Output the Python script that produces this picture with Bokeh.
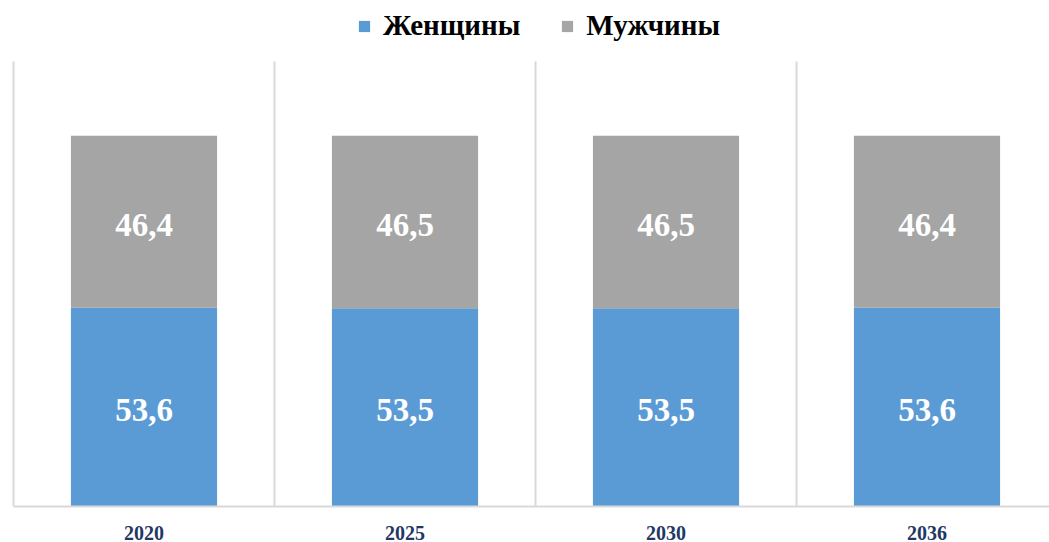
from bokeh.plotting import figure
from bokeh.models import (ColumnDataSource, Range1d, FixedTicker, Legend, LegendItem, LabelSet)
from bokeh.embed import file_html
from bokeh.resources import INLINE

years = ["2020", "2025", "2030", "2036"]
women = [53.6, 53.5, 53.5, 53.6]
men = [46.4, 46.5, 46.5, 46.4]

BLUE = "#5B9BD5"
GREY = "#A5A5A5"
GRID = "#D9D9D9"
FONT = "Liberation Serif"
YMAX = 120

xs = [i + 0.5 for i in range(len(years))]
bounds = [i + 1 for i in range(len(years) - 1)]
src = ColumnDataSource(dict(
    x=xs, women=women, men=men,
    w_mid=[w / 2 for w in women],
    m_mid=[w + m / 2 for w, m in zip(women, men)],
    w_txt=[f"{v:.1f}".replace(".", ",") for v in women],
    m_txt=[f"{v:.1f}".replace(".", ",") for v in men],
))

# frame: x 13..1049, y 0..505 ; 3.7 px per unit
p = figure(width=1049, height=542, output_backend="svg", toolbar_location=None,
           x_range=Range1d(0, 1036 / 261), y_range=Range1d(0, 505 / 3.7),
           min_border_left=13, min_border_right=0, min_border_top=0, min_border_bottom=0)
p.outline_line_color = None
p.background_fill_color = "white"

p.ygrid.grid_line_color = None
p.xgrid.grid_line_color = None
# category separators limited to the 0..YMAX value range
p.segment(x0=bounds, y0=[0] * len(bounds), x1=bounds, y1=[YMAX] * len(bounds),
          line_color=GRID, line_width=2)

rs = p.vbar_stack(["women", "men"], x="x", width=0.56, color=[BLUE, GREY],
                  line_color=None, source=src)

for ycol, tcol in (("w_mid", "w_txt"), ("m_mid", "m_txt")):
    p.add_layout(LabelSet(x="x", y=ycol, text=tcol, source=src, y_offset=-3,
                          text_align="center", text_baseline="middle",
                          text_color="white", text_font=FONT,
                          text_font_style="bold", text_font_size="33px"))

p.xaxis.ticker = FixedTicker(ticks=xs)
p.xaxis.major_label_overrides = {x: y for x, y in zip(xs, years)}
p.xaxis.major_label_text_font = FONT
p.xaxis.major_label_text_font_style = "bold"
p.xaxis.major_label_text_font_size = "20px"
p.xaxis.major_label_text_color = "#1F3864"
p.xaxis.major_tick_line_color = None
p.xaxis.minor_tick_line_color = None
p.xaxis.axis_line_color = GRID
p.xaxis.axis_line_width = 2
p.xaxis.major_label_standoff = 13

p.yaxis.ticker = FixedTicker(ticks=[])
p.yaxis.bounds = (0, YMAX)
p.yaxis.major_tick_line_color = None
p.yaxis.minor_tick_line_color = None
p.yaxis.axis_line_color = GRID
p.yaxis.axis_line_width = 2
p.yaxis.major_label_standoff = 0

legend = Legend(items=[LegendItem(label="Женщины", renderers=[rs[0]]),
                       LegendItem(label="Мужчины", renderers=[rs[1]])],
                orientation="horizontal", location=(344, 464),
                label_text_font=FONT, label_text_font_style="bold",
                label_text_font_size="29px", label_text_color="black",
                glyph_width=14, glyph_height=14, label_standoff=12, spacing=40,
                border_line_color=None, background_fill_alpha=0,
                margin=0, padding=10)
p.add_layout(legend, "center")

open("out.html", "w").write(file_html(p, INLINE))
